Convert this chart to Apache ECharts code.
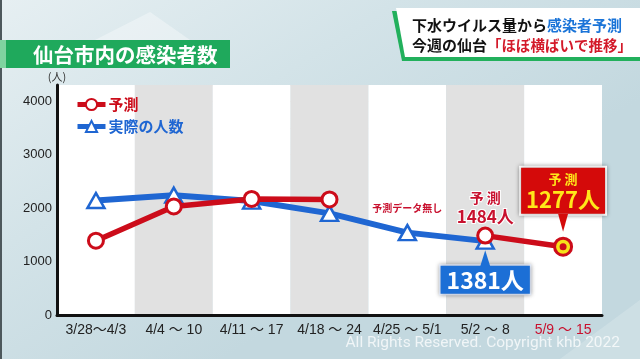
<!DOCTYPE html>
<html><head><meta charset="utf-8">
<script src="https://cdn.jsdelivr.net/npm/echarts/dist/echarts.min.js"></script>
<style>html,body{margin:0;padding:0;background:#d8e6ea;}#c{width:640px;height:359px;}</style>
</head><body><div id="c"></div>
<script>
const categories = ['3/28～4/3', '4/4 ～ 10', '4/11 ～ 17', '4/18 ～ 24', '4/25 ～ 5/1', '5/2 ～ 8', '5/9 ～ 15'];
const predicted = [1390, 2030, 2170, 2160, null, 1484, 1277];
const actual = [2140, 2240, 2130, 1900, 1540, 1381, null];
const yMax = 4300;
const yStep = 500;
const yLabelStep = 1000;
const seriesNames = ['予測', '実際の人数'];

const RED = '#cc0c1a';
const BLUE = '#1f66d2';
const JP = '"Noto Sans CJK JP", "Noto Sans", sans-serif';

const chart = echarts.init(document.getElementById('c'), null, {renderer: 'canvas'});

const redData = predicted.map((v, i) => {
  if (i === 5) {
    return {value: v, label: {show: true, position: 'top', distance: 1,
      formatter: '{a|予 測}\n{b|' + v + '人}',
      rich: {
        a: {fontSize: 14, fontWeight: 'bold', color: '#c8102e', lineHeight: 18, align: 'center', fontFamily: JP, textBorderColor: '#fff', textBorderWidth: 2},
        b: {fontSize: 17, fontWeight: 'bold', color: '#c8102e', lineHeight: 19, align: 'center', fontFamily: JP, textBorderColor: '#fff', textBorderWidth: 2}
      }}};
  }
  if (i === 6) {
    return {value: v, symbolSize: 17,
      itemStyle: {color: '#f6e21a', borderColor: RED, borderWidth: 3},
      label: {show: true, position: 'top', distance: 23,
        formatter: '{a|予 測}\n{b|' + v + '人}',
        backgroundColor: '#d40a0a', borderColor: '#ffffff', borderWidth: 2,
        padding: [3, 5, 2, 5], shadowBlur: 4, shadowColor: 'rgba(0,0,0,0.35)',
        rich: {
          a: {fontSize: 13, fontWeight: 'bold', color: '#ffe81a', lineHeight: 17, align: 'center', fontFamily: JP},
          b: {fontSize: 22, fontWeight: 'bold', color: '#ffe81a', lineHeight: 24, align: 'center', fontFamily: JP}
        }}};
  }
  return v;
});

const blueData = actual.map((v, i) => {
  if (i === 4) {
    return {value: v, label: {show: true, position: 'top', distance: 11,
      formatter: '予測データ無し', color: '#c8102e', fontSize: 10, fontWeight: 'bold', fontFamily: JP}};
  }
  if (i === 5) {
    return {value: v, label: {show: true, position: 'bottom', distance: 16,
      formatter: v + '人', color: '#ffffff', fontSize: 23, fontWeight: 'bold', fontFamily: JP,
      backgroundColor: '#1c6fd6', borderColor: '#e8f0ff', borderWidth: 1.5,
      padding: [1, 6, 0, 6], lineHeight: 27, shadowBlur: 4, shadowColor: 'rgba(0,0,0,0.3)'}};
  }
  return v;
});

const option = {
  animation: false,
  backgroundColor: {type: 'linear', x: 0, y: 0, x2: 0.35, y2: 1,
    colorStops: [{offset: 0, color: '#e6eff2'}, {offset: 0.5, color: '#d3e3e8'}, {offset: 1, color: '#c3d8df'}]},
  grid: {left: 57, right: 38, top: 85, bottom: 44, containLabel: false},
  legend: {
    orient: 'vertical', left: 70, top: 92, itemWidth: 28, itemHeight: 14, itemGap: 7,
    lineStyle: {width: 5},
    data: [
      {name: seriesNames[0], textStyle: {color: RED}},
      {name: seriesNames[1], textStyle: {color: BLUE}}
    ],
    textStyle: {fontSize: 15, fontWeight: 'bold', fontFamily: JP, padding: [0, 0, 0, -2]}
  },
  xAxis: {
    type: 'category',
    data: categories.map((c, i) => i === 6 ? {value: c, textStyle: {color: '#c8102e'}} : c),
    boundaryGap: true,
    axisLine: {show: true, lineStyle: {color: '#111', width: 3}},
    axisTick: {show: false},
    axisLabel: {color: '#222', fontSize: 14, fontFamily: 'Liberation Sans, ' + JP, margin: 8, interval: 0},
    splitArea: {show: true, areaStyle: {color: ['#ffffff', '#e1e1e1']}},
    splitLine: {show: false}
  },
  yAxis: {
    type: 'value', min: 0, max: yMax, interval: yStep,
    name: '(人)', nameLocation: 'end', nameGap: 3,
    nameTextStyle: {color: '#333', fontSize: 11, fontFamily: JP, align: 'center', padding: [0, 0, 0, 0]},
    axisLine: {show: true, lineStyle: {color: '#111', width: 3}},
    axisTick: {show: false},
    axisLabel: {color: '#222', fontSize: 13, fontFamily: 'Liberation Sans', margin: 5,
      formatter: v => (v % yLabelStep === 0 && v <= 4000) ? String(v) : ''},
    splitLine: {show: true, lineStyle: {color: '#d4d4d4', width: 1}}
  },
  series: [
    {
      name: seriesNames[0], type: 'line', z: 4, data: redData, connectNulls: false,
      symbol: 'circle', symbolSize: 15,
      lineStyle: {color: RED, width: 5.5},
      itemStyle: {color: '#ffffff', borderColor: RED, borderWidth: 3},
      markPoint: {
        label: {show: false},
        data: [
          {coord: [6, predicted[6]], symbol: 'path://M0,0L10,0L5,17Z', symbolSize: [10, 18], symbolKeepAspect: false,
           symbolOffset: [0, -24], itemStyle: {color: '#d40a0a'}},
          {coord: [6, predicted[6]], symbol: 'circle', symbolSize: 7, itemStyle: {color: RED}}
        ]
      }
    },
    {
      name: seriesNames[1], type: 'line', z: 3, data: blueData, connectNulls: false,
      symbol: 'triangle', symbolSize: [17, 15],
      lineStyle: {color: BLUE, width: 6},
      itemStyle: {color: '#ffffff', borderColor: BLUE, borderWidth: 2.5},
      markPoint: {
        label: {show: false},
        data: [
          {coord: [5, actual[5]], symbol: 'path://M5,0L10,15L0,15Z', symbolSize: [10, 16], symbolKeepAspect: false,
           symbolOffset: [0, 17], itemStyle: {color: '#1c6fd6'}}
        ]
      }
    }
  ],
  graphic: [
    {type: 'rect', silent: true, z: -1, shape: {x: 0, y: 0, width: 2, height: 359}, style: {fill: '#4d585c'}},
    {type: 'polygon', silent: true, z: -1, shape: {points: [[95, 40], [150, 12], [190, 40]]}, style: {fill: 'rgba(255,255,255,0.35)'}},
    {type: 'polygon', silent: true, z: -1, shape: {points: [[560, 359], [640, 300], [640, 359]]}, style: {fill: 'rgba(255,255,255,0.18)'}},
    {type: 'rect', shape: {x: 0, y: 40, width: 230, height: 28}, style: {fill: '#1fa95c'}},
    {type: 'rect', shape: {x: 0, y: 40, width: 6, height: 28}, style: {fill: '#7fd3a0'}},
    {type: 'text', x: 33, y: 55, style: {text: '仙台市内の感染者数', fill: '#ffffff', fontSize: 20.5, fontWeight: 'bold', fontFamily: JP, verticalAlign: 'middle'}},
    {type: 'polygon', shape: {points: [[392, 11], [640, 11], [640, 61], [402, 61]]}, style: {fill: '#22b05c'}},
    {type: 'polygon', shape: {points: [[396, 8], [640, 8], [640, 57], [405, 57]]}, style: {fill: '#ffffff'}},
    {type: 'text', x: 412, y: 25, style: {
      text: '{a|下水ウイルス量から}{b|感染者予測}', verticalAlign: 'middle',
      rich: {a: {fill: '#111', fontSize: 15, fontWeight: 'bold', fontFamily: JP}, b: {fill: '#1a74d8', fontSize: 15, fontWeight: 'bold', fontFamily: JP}}}},
    {type: 'text', x: 412, y: 45, style: {
      text: '{a|今週の仙台}{b|「ほぼ横ばいで推移」}', verticalAlign: 'middle',
      rich: {a: {fill: '#111', fontSize: 15, fontWeight: 'bold', fontFamily: JP}, b: {fill: '#d31a2a', fontSize: 14.5, fontWeight: 'bold', fontFamily: JP}}}},
    {type: 'text', x: 620, y: 343, style: {text: 'All Rights Reserved. Copyright khb 2022', fill: 'rgba(255,255,255,0.75)', fontSize: 15.5, fontFamily: 'Roboto', align: 'right', verticalAlign: 'middle'}}
  ]
};
chart.setOption(option);
</script>
</body></html>
